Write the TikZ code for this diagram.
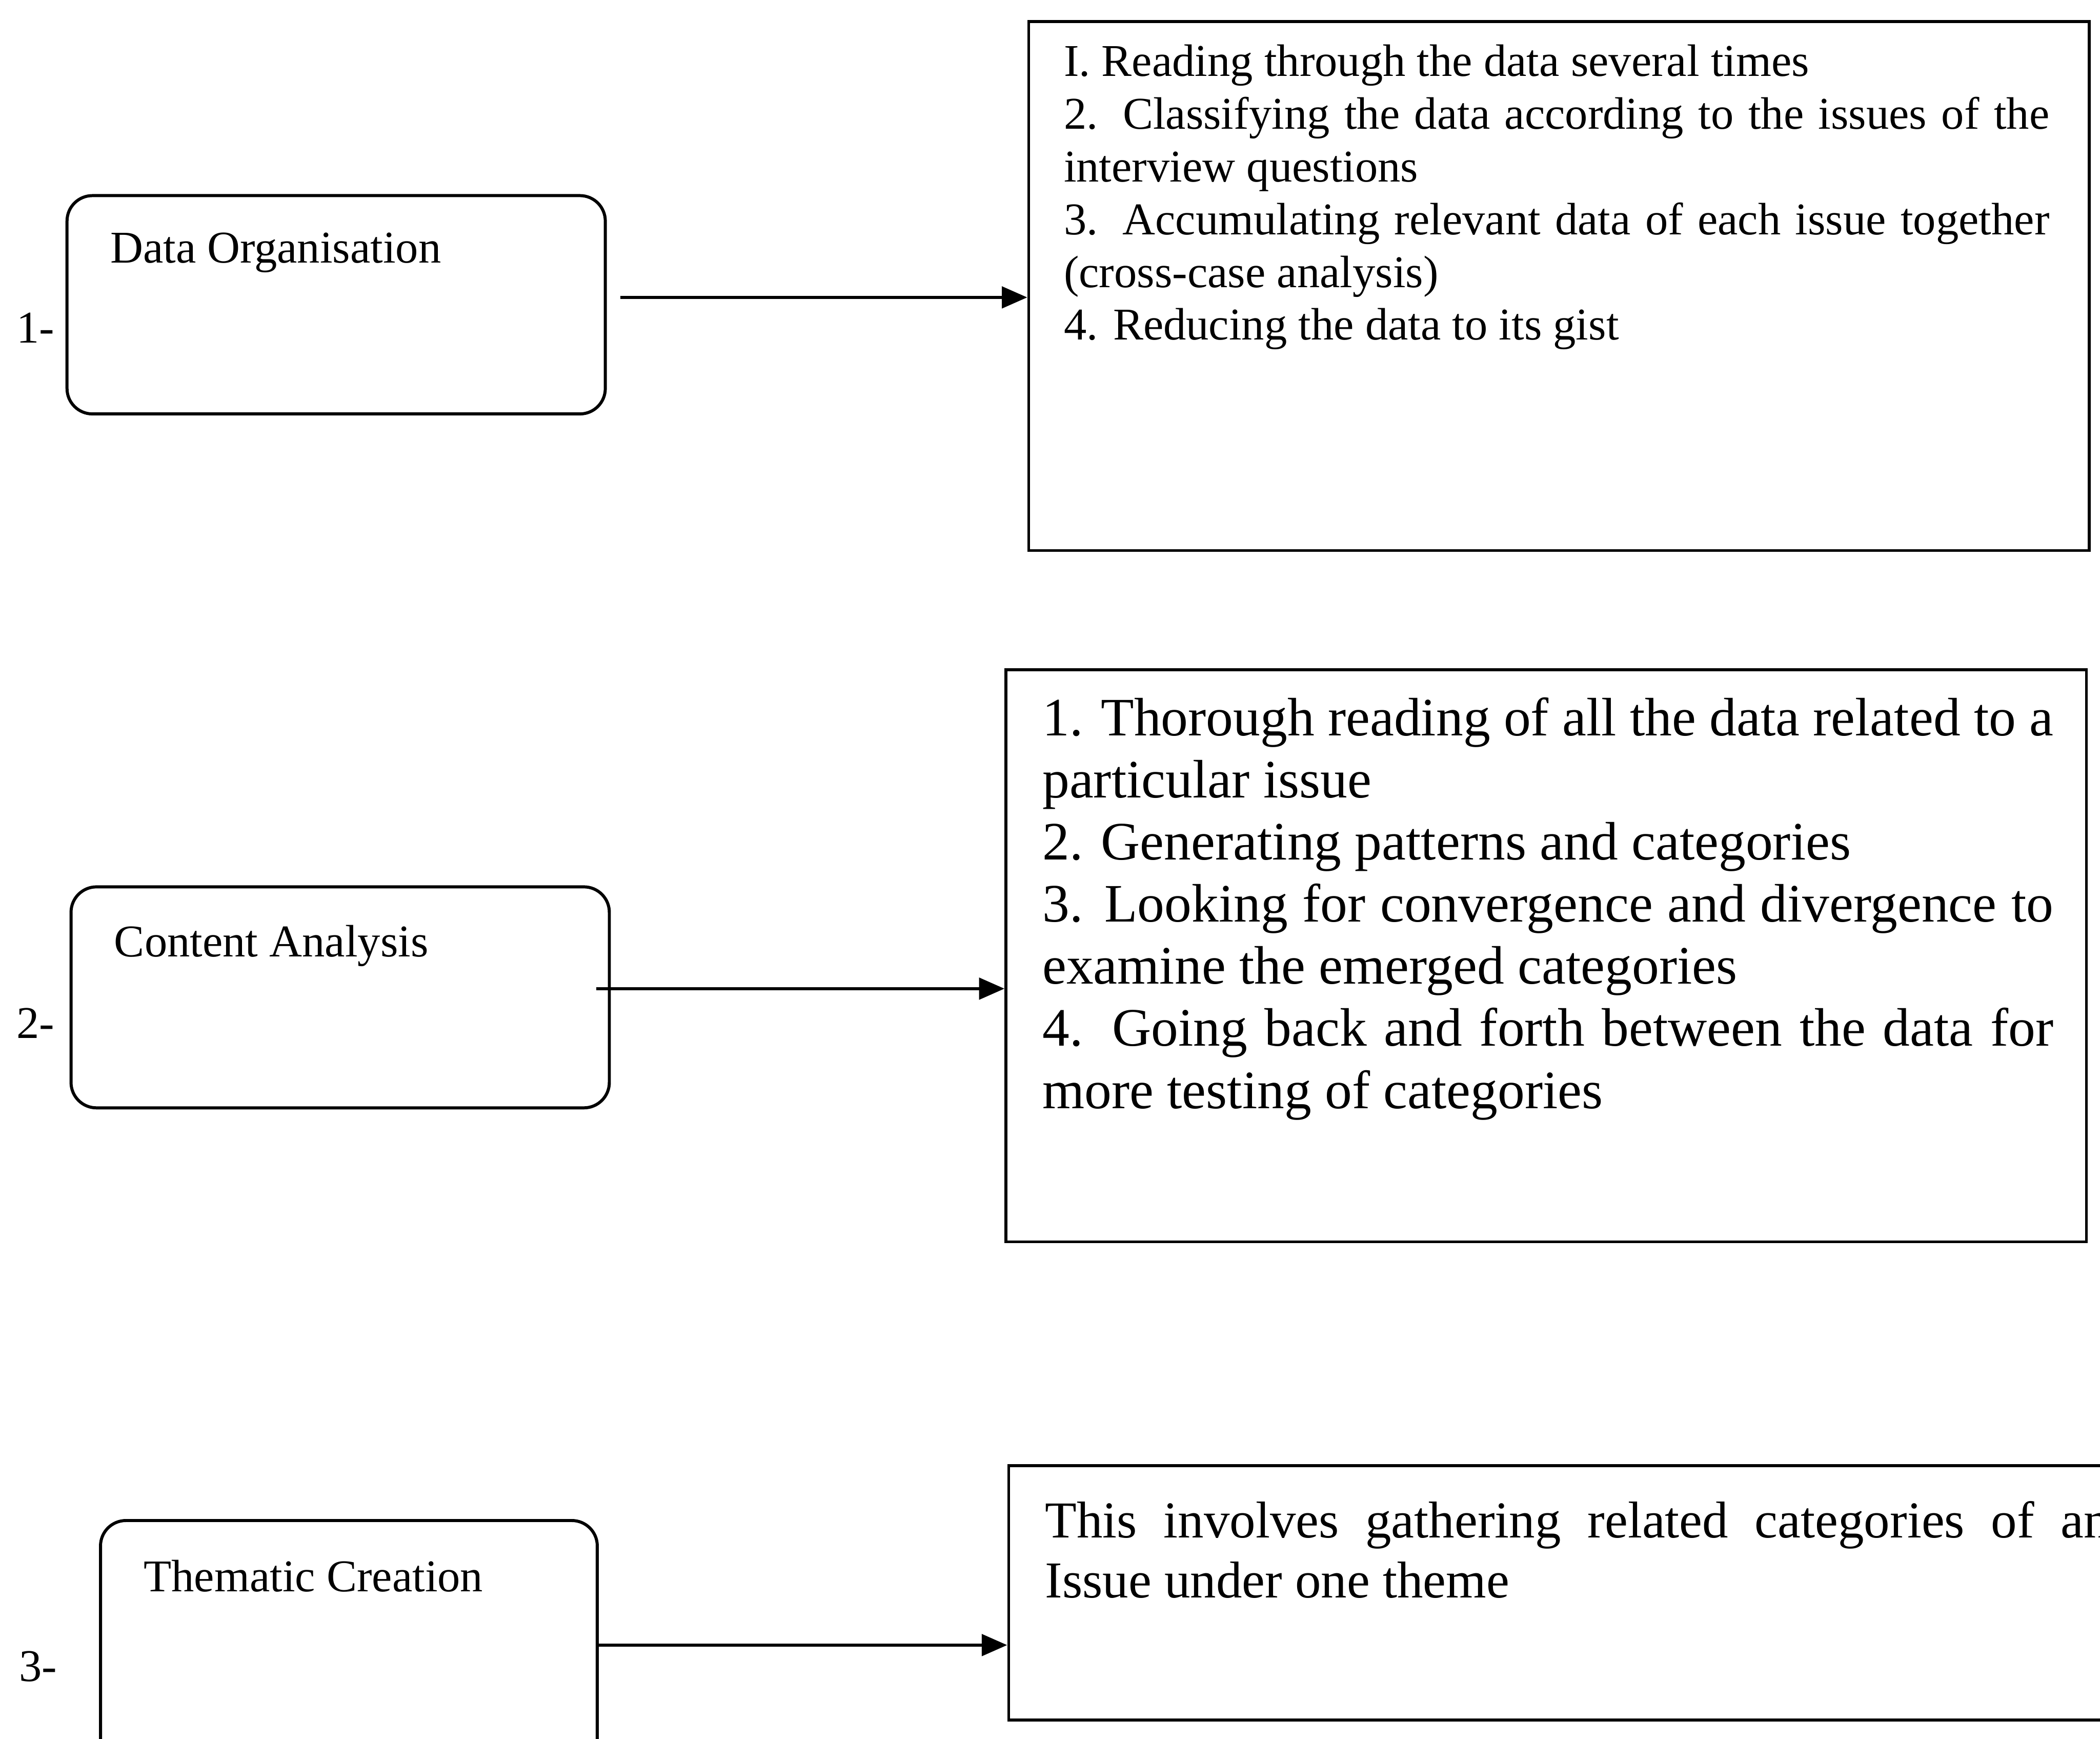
\documentclass[tikz,border=0pt]{standalone}
\usepackage{fontspec}
\setmainfont{Liberation Serif}
\usetikzlibrary{arrows.meta}

\begin{document}
\begin{tikzpicture}[x=0.02cm, y=-0.02cm,
    stage/.style={draw, line width=1.3pt, rounded corners=0.38cm, inner sep=0pt},
    detail/.style={draw, line width=1.2pt, inner sep=0pt},
    txt/.style={anchor=base west, inner sep=0pt, align=justify},
    lbl/.style={anchor=base west, inner sep=0pt, font=\fontsize{19.3}{22.4}\selectfont},
    flow/.style={line width=1.4pt, -{Triangle[length=0.38cm, width=0.32cm]}}]

    \useasboundingbox (0,0) rectangle (1568,1298);
    \clip (0,0) rectangle (1568,1298);

    % Stufen links
    \node[stage, minimum width=8.04cm, minimum height=3.26cm] (a1) at (251,227.5) {};
    \node[stage, minimum width=8.04cm, minimum height=3.30cm] (a2) at (254,744.5) {};
    \node[stage, minimum width=7.42cm, minimum height=4.10cm] (a3) at (260.5,1237.5) {};

    \node[lbl] (t1) at (82,196) {Data Organisation};
    \node[lbl] (t2) at (85,714) {Content Analysis};
    \node[lbl] (t3) at (107,1188) {Thematic Creation};

    \node[lbl] (n1) at (12,256) {1-};
    \node[lbl] (n2) at (12,775) {2-};
    \node[lbl] (n3) at (14,1255) {3-};

    % Kaesten rechts
    \node[detail, minimum width=15.84cm, minimum height=7.90cm] (b1) at (1164,213.5) {};
    \node[detail, minimum width=16.14cm, minimum height=8.54cm] (b2) at (1154.5,713.5) {};
    \node[detail, minimum width=18.94cm, minimum height=3.80cm] (b3) at (1226.5,1189) {};

    \node[txt, text width=14.72cm, font=\fontsize{19.3}{22.4}\selectfont] (s1) at (794,57)
        {I. Reading through the data several times\\
         2. Classifying the data according to the issues of the\linebreak interview questions\\
         3. Accumulating relevant data of each issue together\linebreak (cross-case analysis)\\
         4. Reducing the data to its gist};

    \node[txt, text width=15.1cm, font=\fontsize{23}{26.4}\selectfont] (s2) at (778,549)
        {1. Thorough reading of all the data related to a\linebreak particular issue\\
         2. Generating patterns and categories\\
         3. Looking for convergence and divergence to\linebreak examine the emerged categories\\
         4. Going back and forth between the data for\linebreak more testing of categories};

    \node[txt, text width=15.9cm, font=\fontsize{22}{25.5}\selectfont] (s3) at (780,1148)
        {This involves gathering related categories of an\linebreak Issue under one theme};

    % Pfeile
    \draw[flow, shorten <=0.2cm] (a1.east |- 0,222) -- (b1.west |- 0,222);
    \draw[flow, shorten <=-0.22cm] (a2.east |- 0,738) -- (b2.west |- 0,738);
    \draw[flow] (a3.east |- 0,1228) -- (b3.west |- 0,1228);

\end{tikzpicture}
\end{document}
